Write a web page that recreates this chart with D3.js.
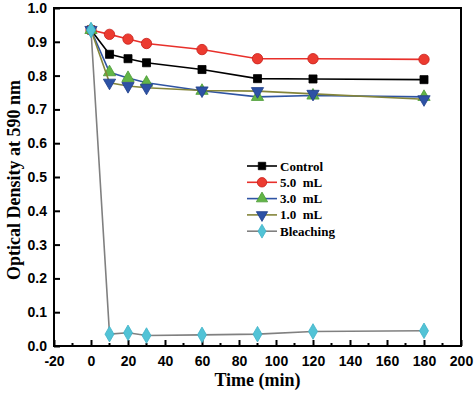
<!DOCTYPE html>
<html>
<head>
<meta charset="utf-8">
<script src="https://cdn.jsdelivr.net/npm/d3@7"></script>
<style>
  body { margin: 0; background: #fff; }
</style>
</head>
<body>
<div id="chart"></div>
<script>
// data
const times = [0, 10, 20, 30, 60, 90, 120, 180];
const seriesNames = ["Control", "5.0  mL", "3.0  mL", "1.0  mL", "Bleaching"];
const control = [0.935, 0.863, 0.850, 0.838, 0.818, 0.791, 0.790, 0.788];
const ml5 = [0.935, 0.922, 0.908, 0.895, 0.877, 0.850, 0.850, 0.848];
const ml3 = [0.935, 0.810, 0.793, 0.779, 0.755, 0.737, 0.741, 0.737];
const ml1 = [0.935, 0.779, 0.769, 0.764, 0.756, 0.754, 0.746, 0.730];
const bleaching = [0.935, 0.035, 0.039, 0.031, 0.033, 0.035, 0.043, 0.045];
const xTicks = [-20, 0, 20, 40, 60, 80, 100, 120, 140, 160, 180, 200];
const yTicks = [0.0, 0.1, 0.2, 0.3, 0.4, 0.5, 0.6, 0.7, 0.8, 0.9, 1.0];

const styles = [
  {line: "#000", fill: "#000", stroke: "#000", shape: d3.symbolSquare},
  {line: "#e8302b", fill: "#ec3b30", stroke: "#c8201a", shape: d3.symbolCircle},
  {line: "#2f54a3", fill: "#62b547", stroke: "#4a9a35", shape: d3.symbolTriangle},
  {line: "#84853a", fill: "#2d52a5", stroke: "#1f3f8a", shape: d3.symbolTriangle, flip: true},
  {line: "#808080", fill: "#52c3d6", stroke: "#3fb3c8", shape: d3.symbolDiamond}
];
const allValues = [control, ml5, ml3, ml1, bleaching];

const width = 474, height = 393;
const margin = {top: 8, left: 54, right: 13, bottom: 47};

const x = d3.scaleLinear([-20, 200], [margin.left, width - margin.right]);
const y = d3.scaleLinear([0, 1], [height - margin.bottom, margin.top]);

const svg = d3.select("#chart").append("svg")
  .attr("width", width)
  .attr("height", height)
  .style("display", "block");

// frame
svg.append("rect")
  .attr("x", x(-20)).attr("y", y(1))
  .attr("width", x(200) - x(-20)).attr("height", y(0) - y(1))
  .attr("fill", "none").attr("stroke", "#000").attr("stroke-width", 2);

// bottom axis, ticks inward
const xAxis = svg.append("g")
  .attr("transform", `translate(0,${y(0)})`)
  .call(d3.axisBottom(x).tickValues(xTicks).tickSize(-6).tickPadding(10).tickFormat(d => String(d)));
xAxis.selectAll("line").attr("stroke-width", 2);
xAxis.selectAll("text")
  .attr("font-family", "Liberation Sans, Arial, sans-serif")
  .attr("font-weight", "bold").attr("font-size", 14).attr("fill", "#000");

// minor x ticks
svg.append("g")
  .selectAll("line")
  .data(d3.range(-10, 200, 20))
  .join("line")
  .attr("x1", d => x(d)).attr("x2", d => x(d))
  .attr("y1", y(0)).attr("y2", y(0) - 3)
  .attr("stroke", "#000").attr("stroke-width", 2);

// left axis, ticks inward
const yAxis = svg.append("g")
  .attr("transform", `translate(${x(-20)},0)`)
  .call(d3.axisLeft(y).tickValues(yTicks).tickSize(-6).tickPadding(7).tickFormat(d3.format(".1f")));
yAxis.selectAll("line").attr("stroke-width", 2);
yAxis.selectAll("text")
  .attr("font-family", "Liberation Sans, Arial, sans-serif")
  .attr("font-weight", "bold").attr("font-size", 14).attr("fill", "#000");

svg.selectAll(".domain").remove();

// lines and markers
const line = d3.line().x((d, i) => x(times[i])).y(d => y(d));
allValues.forEach((vals, k) => {
  const st = styles[k];
  const g = svg.append("g");
  g.append("path")
    .attr("d", line(vals))
    .attr("fill", "none")
    .attr("stroke", st.line)
    .attr("stroke-width", 1.6);
  g.selectAll("path.m")
    .data(vals)
    .join("path")
    .attr("class", "m")
    .attr("d", d3.symbol(st.shape, st.shape === d3.symbolCircle ? 85 : st.shape === d3.symbolDiamond ? 70 : 65))
    .attr("transform", (d, i) => `translate(${x(times[i])},${y(d)})${st.flip ? " rotate(180)" : ""}`)
    .attr("fill", st.fill)
    .attr("stroke", st.stroke)
    .attr("stroke-width", 0.8);
});

// legend
const legend = svg.append("g").attr("transform", "translate(247,166)");
seriesNames.forEach((name, k) => {
  const st = styles[k];
  const row = legend.append("g").attr("transform", `translate(0,${k * 16.3})`);
  row.append("line")
    .attr("x1", 0).attr("x2", 30)
    .attr("stroke", st.line).attr("stroke-width", 1.6);
  row.append("path")
    .attr("d", d3.symbol(st.shape, st.shape === d3.symbolCircle ? 70 : 55))
    .attr("transform", `translate(15,0)${st.flip ? " rotate(180)" : ""}`)
    .attr("fill", st.fill).attr("stroke", st.stroke).attr("stroke-width", 0.8);
  row.append("text")
    .attr("x", 33).attr("dy", "0.35em")
    .attr("font-family", "Liberation Serif, Times New Roman, serif")
    .attr("font-weight", "bold").attr("font-size", 13)
    .attr("xml:space", "preserve")
    .style("white-space", "pre")
    .text(name);
});

// axis titles
svg.append("text")
  .attr("x", (x(-20) + x(200)) / 2)
  .attr("y", 386)
  .attr("text-anchor", "middle")
  .attr("font-family", "Liberation Serif, Times New Roman, serif")
  .attr("font-weight", "bold").attr("font-size", 18)
  .text("Time (min)");

svg.append("text")
  .attr("text-anchor", "middle")
  .attr("transform", `translate(20,${(y(0) + y(1)) / 2 + 3}) rotate(-90)`)
  .attr("font-family", "Liberation Serif, Times New Roman, serif")
  .attr("font-weight", "bold").attr("font-size", 18)
  .text("Optical Density at 590 nm");
</script>
</body>
</html>
